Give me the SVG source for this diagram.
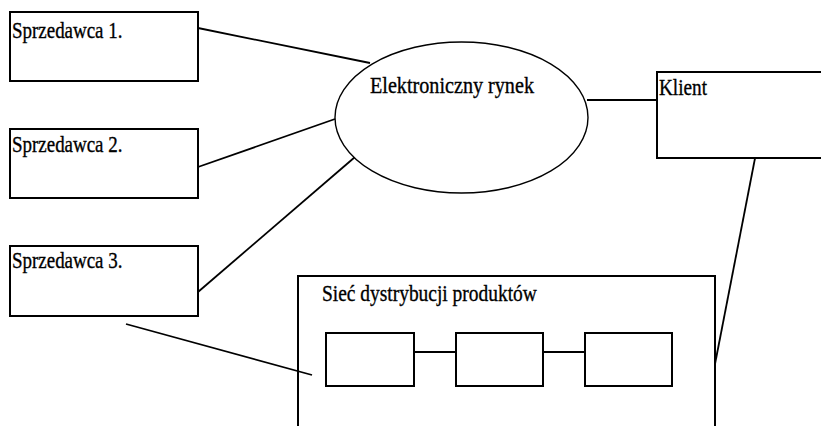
<svg xmlns="http://www.w3.org/2000/svg" width="821" height="426" viewBox="0 0 821 426">
  <style>
    .box { fill: #ffffff; stroke: #000000; stroke-width: 2; }
    .frame { fill: none; stroke: #000000; stroke-width: 2; }
    .oval { fill: #ffffff; stroke: #000000; stroke-width: 1.4; }
    .link { fill: none; stroke: #000000; stroke-width: 1.8; }
    text { font-family: 'Liberation Serif', 'Times New Roman', serif; font-size: 24px; fill: #000000; stroke: #000000; stroke-width: 0.35; }
  </style>
  <rect width="821" height="426" fill="#ffffff"/>

  <!-- connectors -->
  <g id="connectors">
    <line class="link" x1="198" y1="28" x2="370" y2="63"/>
    <line class="link" x1="198" y1="167" x2="335" y2="119"/>
    <line class="link" x1="198" y1="292" x2="355" y2="157"/>
    <line class="link" x1="587" y1="100" x2="657" y2="100"/>
    <line class="link" x1="757" y1="148" x2="715" y2="364"/>
    <line class="link" x1="126" y1="324" x2="312" y2="375"/>
    <line class="link" x1="414" y1="352" x2="456" y2="352"/>
    <line class="link" x1="543" y1="352" x2="585" y2="352"/>
  </g>

  <!-- labels are narrowed horizontally with a scale transform -->
  <g id="seller1">
    <rect class="box" x="10" y="12" width="188" height="69"/>
    <text transform="translate(12 38) scale(0.79 1)">Sprzedawca 1.</text>
  </g>

  <g id="seller2">
    <rect class="box" x="10" y="129" width="188" height="69"/>
    <text transform="translate(12 152) scale(0.79 1)">Sprzedawca 2.</text>
  </g>

  <g id="seller3">
    <rect class="box" x="10" y="246" width="188" height="70"/>
    <text transform="translate(12 268) scale(0.79 1)">Sprzedawca 3.</text>
  </g>

  <g id="market">
    <ellipse class="oval" cx="461.5" cy="117.5" rx="126.5" ry="75.5"/>
    <text transform="translate(370 92.5) scale(0.84 1)">Elektroniczny rynek</text>
  </g>

  <g id="client">
    <rect class="box" x="657" y="72" width="180" height="86"/>
    <text transform="translate(659 95) scale(0.8 1)">Klient</text>
  </g>

  <g id="distribution">
    <rect class="frame" x="298" y="276" width="417" height="170"/>
    <text transform="translate(322 300.5) scale(0.81 1)">Sieć dystrybucji produktów</text>
  </g>

  <g id="node-a">
    <rect class="box" x="326" y="333" width="88" height="53"/>
  </g>
  <g id="node-b">
    <rect class="box" x="456" y="333" width="87" height="53"/>
  </g>
  <g id="node-c">
    <rect class="box" x="585" y="333" width="87" height="53"/>
  </g>
</svg>
